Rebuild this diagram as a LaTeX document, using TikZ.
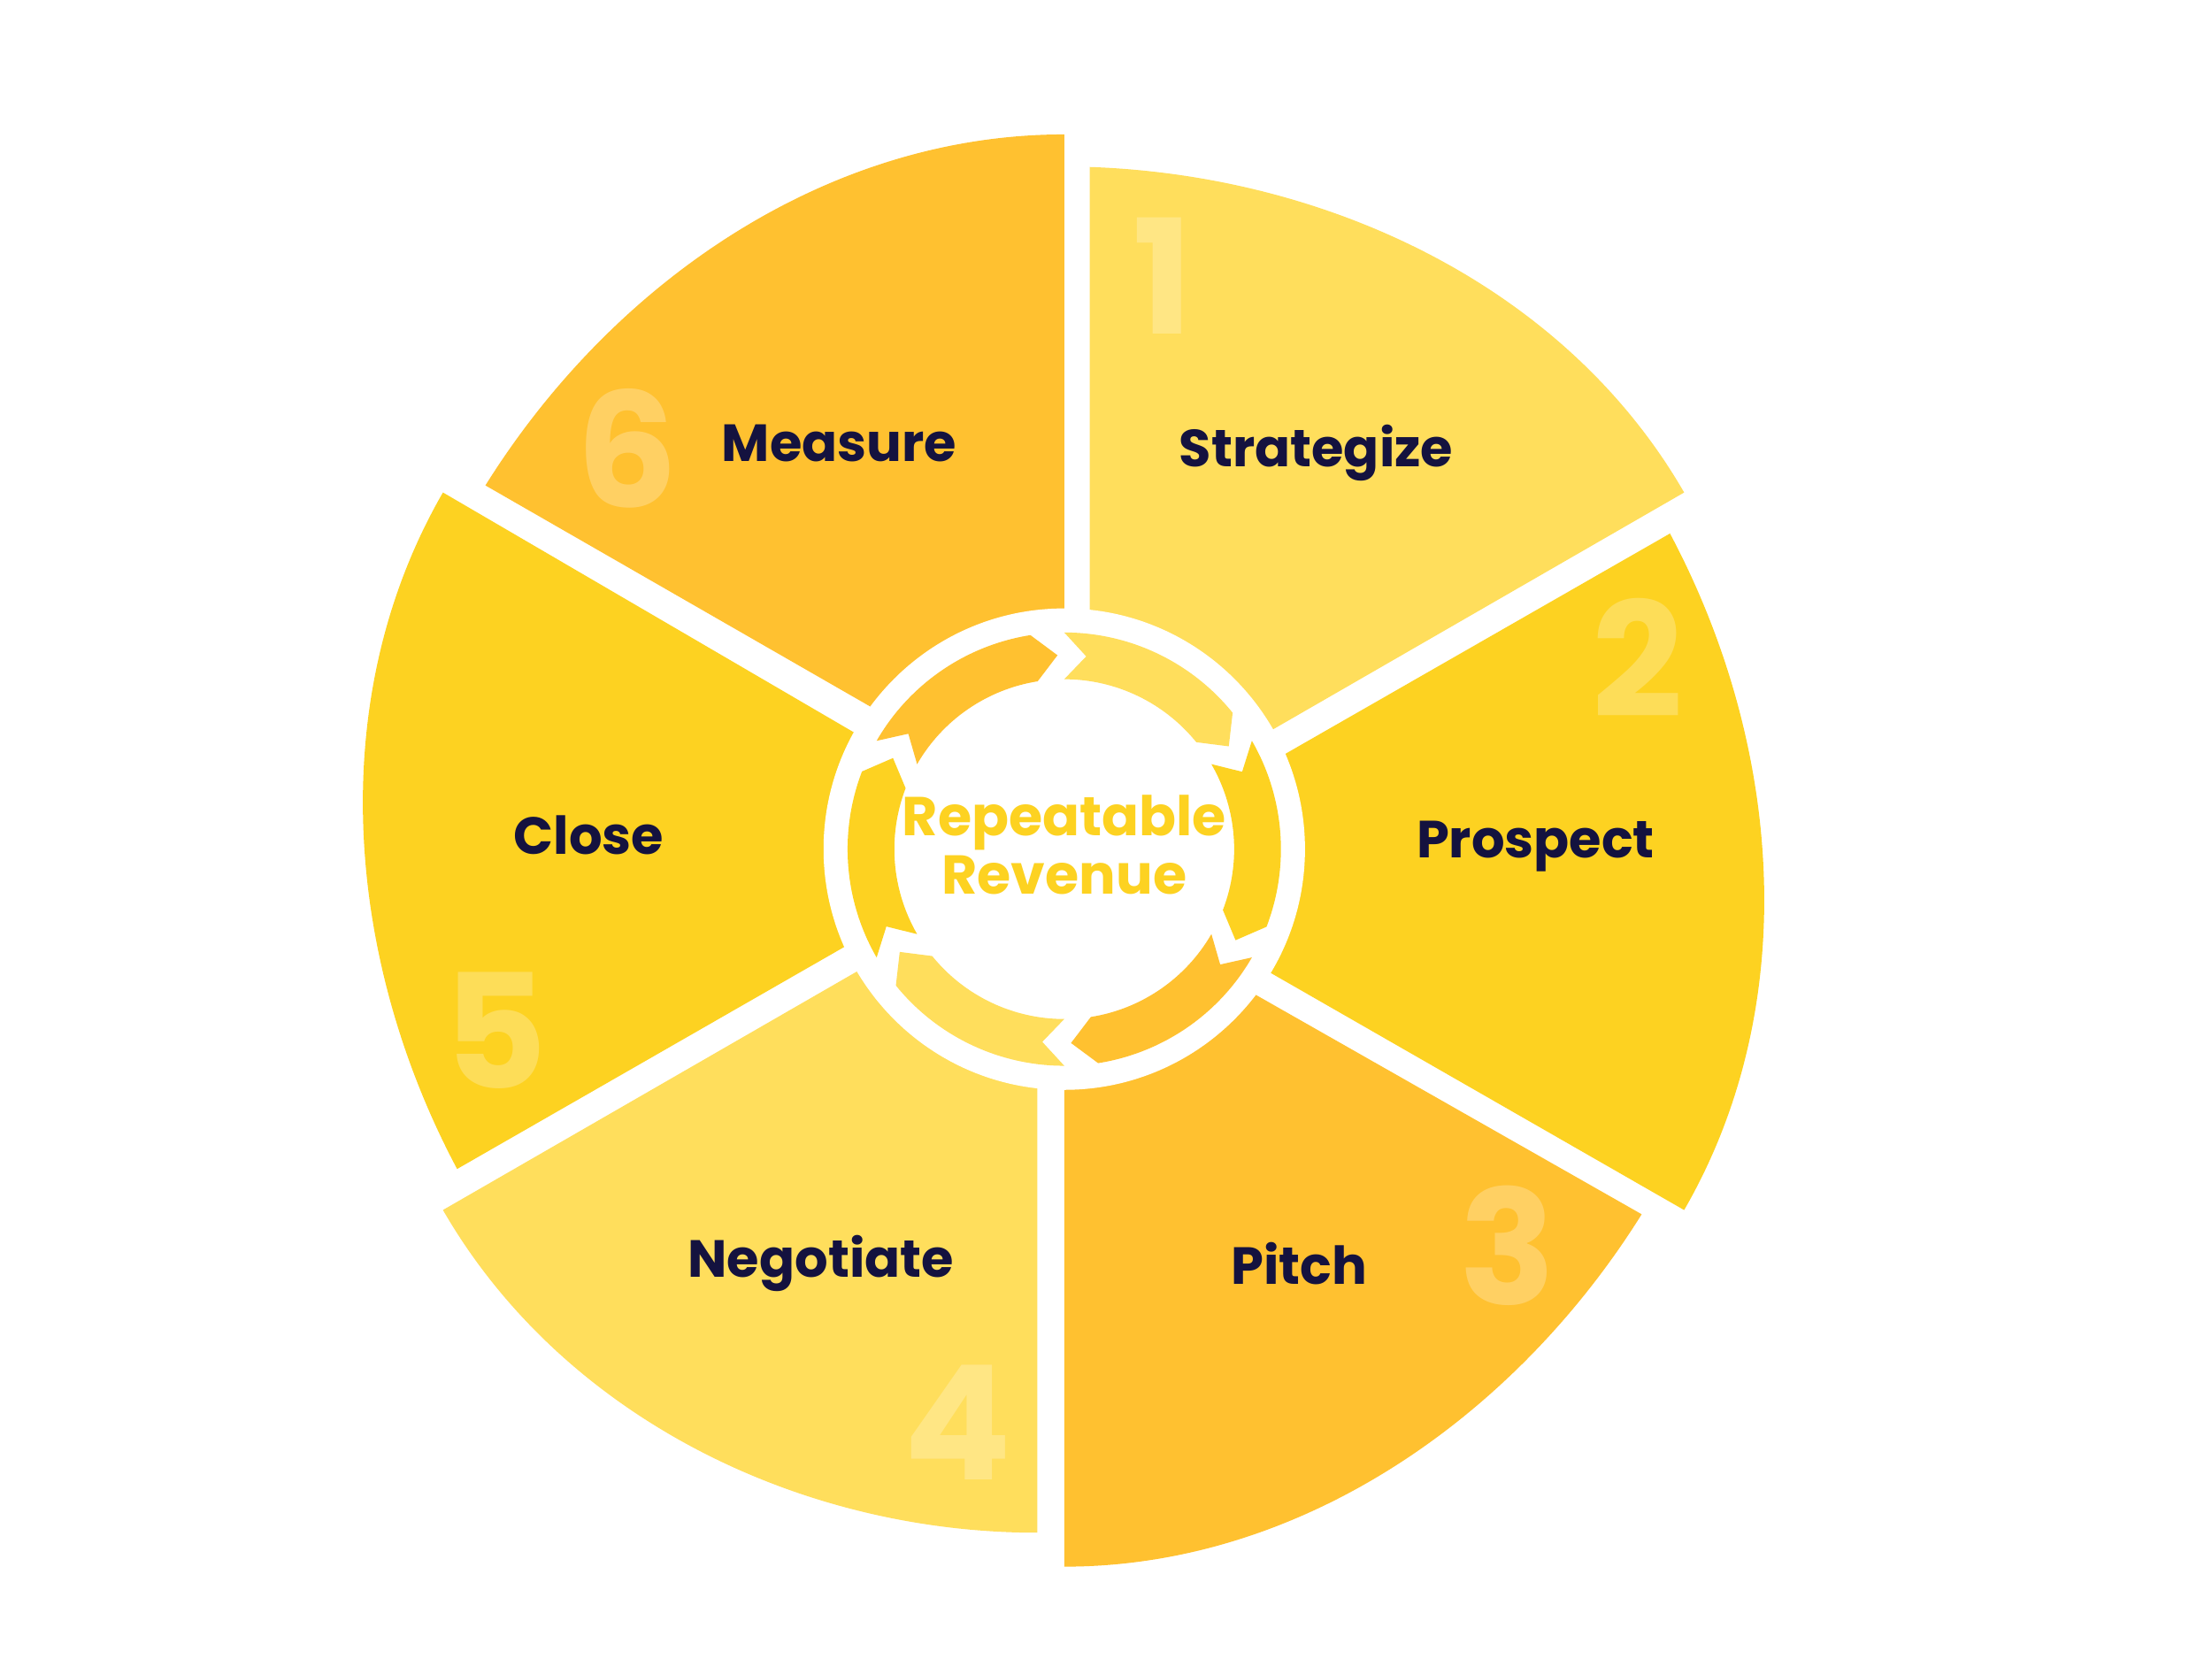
\documentclass[tikz,border=0pt]{standalone}
\usepackage{fontspec}
\setmainfont{Poppins}
\definecolor{wlight}{HTML}{FFDE5C}
\definecolor{wmid}{HTML}{FDD221}
\definecolor{worange}{HTML}{FFC130}
\definecolor{navy}{HTML}{14123F}
\tikzset{
  lbl/.style={font=\bfseries\fontsize{10.5}{12}\selectfont, text=navy},
  num/.style={font=\bfseries\fontsize{32}{32}\selectfont, text=white, text opacity=0.25},
}
\begin{document}
\begin{tikzpicture}[x=0.01cm,y=0.01cm]
\useasboundingbox[fill=white] (0,0) rectangle (1563,1172);
% wedges
\fill[wlight] (770,1054) to[out=-2,in=120,looseness=0.9] (1190,824) -- (770,582) -- cycle;
\fill[wmid] (768,559) -- (1180,795) to[out=-62,in=60,looseness=0.9] (1190,317) -- cycle;
\fill[worange] (752,546) -- (1160,314) to[out=-122,in=0,looseness=0.9] (752,65) -- cycle;
\fill[wlight] (733,559) -- (733,89) to[out=180,in=-60,looseness=0.9] (313,317) -- cycle;
\fill[wmid] (731,580) -- (323,346) to[out=118,in=240,looseness=0.9] (313,824) -- cycle;
\fill[worange] (752,594) -- (343,829) to[out=58,in=180,looseness=0.9] (752,1077) -- cycle;
% hole
\fill[white] (752,572) circle[radius=1.70cm];
% arrows
\begin{scope}[shift={(752,572)}]
\foreach \k/\c in {0/wlight,1/wmid,2/worange,3/wlight,4/wmid,5/worange}{
  \pgfmathsetmacro{\B}{90-60*\k}
  \fill[\c] (\B:1.53cm) -- (\B-6.5:1.37cm) -- (\B:1.20cm)
    arc[start angle=\B, end angle=\B-51, radius=1.20cm]
    -- (\B-58:1.37cm) -- (\B-51:1.53cm)
    arc[start angle=\B-51, end angle=\B, radius=1.53cm] -- cycle;
}
\end{scope}
% numbers
\node[num] (n1) at (822,977) {1};
\node[num] (n2) at (1157,707) {2};
\node[num] (n3) at (1065,292) {3};
\node[num] (n4) at (677,167) {4};
\node[num] (n5) at (350,444) {5};
\node[num] (n6) at (443,855) {6};
% labels
\node[lbl] (s) at (930,852) {Strategize};
\node[lbl] (p) at (1085,574) {Prospect};
\node[lbl] (pi) at (918,279) {Pitch};
\node[lbl] (ng) at (580,279) {Negotiate};
\node[lbl] (cl) at (416,582) {Close};
\node[lbl] (ms) at (593,859) {Measure};
\node[font=\bfseries\fontsize{11}{7.6}\selectfont, text=wmid, align=center] (rr) at (752,575) {Repeatable\\Revenue};
\end{tikzpicture}
\end{document}
